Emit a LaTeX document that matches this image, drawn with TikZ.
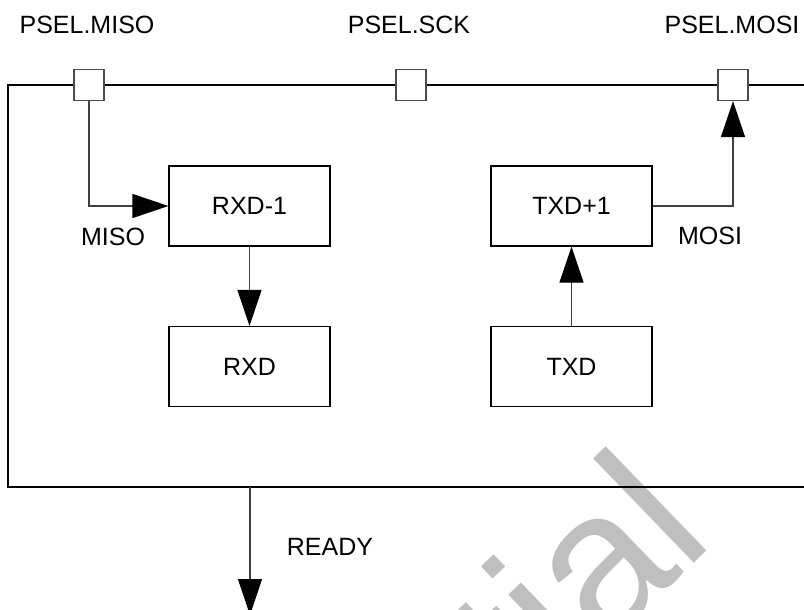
\documentclass[tikz,border=0pt]{standalone}
\usepackage{fontspec}
\setmainfont{Liberation Sans}
\usetikzlibrary{arrows.meta}
\begin{document}
\begin{tikzpicture}[x=1pt,y=-1pt,
  lbl/.style={font=\fontsize{25}{30}\selectfont, inner sep=0pt},
  blk/.style={draw=black, line width=1.2pt, minimum width=161pt, minimum height=80pt, font=\fontsize{25}{30}\selectfont, inner sep=0pt},
  port/.style={draw=black!70, fill=white, line width=1.2pt, minimum width=30pt, minimum height=31pt, inner sep=0pt},
  conn/.style={draw=black!75, line width=1.2pt},
  arr/.style={conn, -{Triangle[length=36pt,width=24pt,color=black]}},
  frame/.style={draw=black, line width=1.5pt}
]
\useasboundingbox (0,0) rectangle (804,610);
\clip (0,0) rectangle (804,610);
\fill[white] (0,0) rectangle (804,610);

% watermark
\node[rotate=44, anchor=base east, text=black!25, inner sep=0pt,
      font=\fontsize{200}{200}\selectfont] (wm) at (717,541) {Confidential};

% frame
\coordinate (tl) at (8,85);
\coordinate (tr) at (812,85);
\coordinate (bl) at (8,487);
\coordinate (br) at (812,487);
\draw[frame] (tr) -- (tl) -- (bl) -- (br);

% ports
\node[port] (pmiso) at (89,85) {};
\node[port] (psck)  at (411,85) {};
\node[port] (pmosi) at (733,85) {};

\node[lbl, anchor=base] (lmiso) at (87,34) {PSEL.MISO};
\node[lbl, anchor=base] (lsck)  at (409,34) {PSEL.SCK};
\node[lbl, anchor=base] (lmosi) at (732,34) {PSEL.MOSI};

% blocks
\node[blk] (rxdm) at (249.5,206) {RXD-1};
\node[blk] (rxd)  at (249.5,366.5) {RXD};
\node[blk] (txdp) at (571.5,206) {TXD+1};
\node[blk] (txd)  at (571.5,366.5) {TXD};

% connectors
\draw[arr] (pmiso.south) |- (rxdm.west);
\draw[arr] (rxdm.south) -- (rxd.north);
\draw[arr] (txd.north) -- (txdp.south);
\draw[arr] (txdp.east) -| (pmosi.south);

\coordinate (rdy0) at (250,487);
\coordinate (rdy1) at (250,615);
\draw[arr] (rdy0) -- (rdy1);

% labels
\node[lbl, anchor=base] (tmiso) at (113,245) {MISO};
\node[lbl, anchor=base] (tmosi) at (710,244) {MOSI};
\node[lbl, anchor=base] (tready) at (330,555) {READY};
\end{tikzpicture}
\end{document}
